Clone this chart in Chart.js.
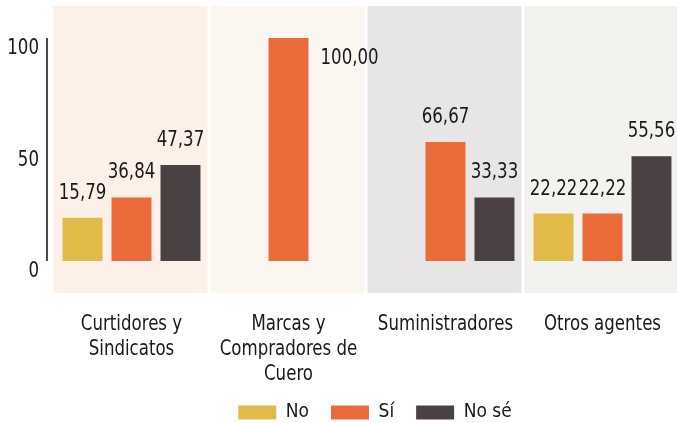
<!DOCTYPE html>
<html>
<head>
<meta charset="utf-8">
<script src="https://cdn.jsdelivr.net/npm/chart.js@4.4.1/dist/chart.umd.min.js"></script>
<style>
  html, body { margin: 0; padding: 0; background: #fff; overflow: hidden; }
  #wrap { width: 681px; height: 423px; }
</style>
</head>
<body>
<div id="wrap"><canvas id="chart"></canvas></div>
<script>
// ========== DATA ========== //
const categories = [
  ["Curtidores y", "Sindicatos"],
  ["Marcas y", "Compradores de", "Cuero"],
  "Suministradores",
  "Otros agentes"
];
const yTicks = [0, 50, 100];

// bar heights as drawn in the picture
const noValues = [19.4, 0, 0, 21.3];
const siValues = [28.5, 100, 53.4, 21.3];
const noseValues = [43.0, 0, 28.5, 47.0];

// value labels printed over the bars
const noLabels = ["15,79", "", "", "22,22"];
const siLabels = ["36,84", "100,00", "66,67", "22,22"];
const noseLabels = ["47,37", "", "33,33", "55,56"];

// ========== STYLE ========== //
const FONT = "'DejaVu Sans Condensed', 'Liberation Sans', sans-serif";
const TEXT = "#1a1a1a";
const NARROW = 0.84; // squeeze text horizontally, the original face is condensed
const panelColors = ["#fdf0e9", "#fbf7f0", "#e7e5e6", "#f3f2ee"];

function narrowText(ctx, txt, x, y, align) {
  ctx.save();
  ctx.translate(x, y);
  ctx.scale(NARROW, 1);
  ctx.textAlign = align;
  ctx.fillText(txt, 0, 0);
  ctx.restore();
}

// panels behind each category, y axis line, tick + category labels
const panelsPlugin = {
  id: "panels",
  afterLayout(chart) {
    // nudge the legend a bit right/down like the original
    const lg = chart.legend;
    if (!lg) return;
    lg.left += 8; lg.right += 8;
    lg.top += 2; lg.bottom += 2;
  },
  beforeDraw(chart) {
    const { ctx, chartArea } = chart;
    const catW = (chartArea.right - chartArea.left) / categories.length;
    ctx.save();
    panelColors.forEach((c, i) => {
      ctx.fillStyle = c;
      ctx.fillRect(chartArea.left + i * catW + 0.5, chartArea.top - 32, catW - 3, chartArea.bottom - chartArea.top + 64);
    });
    ctx.restore();
  },
  afterDraw(chart) {
    const { ctx, chartArea, scales } = chart;
    ctx.save();
    ctx.strokeStyle = "#111";
    ctx.lineWidth = 1.5;
    ctx.beginPath();
    ctx.moveTo(chartArea.left - 6, chartArea.top);
    ctx.lineTo(chartArea.left - 6, chartArea.bottom);
    ctx.stroke();

    ctx.fillStyle = TEXT;
    ctx.textBaseline = "alphabetic";
    ctx.font = `22px ${FONT}`;
    // y tick labels
    scales.y.ticks.forEach(t => {
      narrowText(ctx, String(t.value), chartArea.left - 14, scales.y.getPixelForValue(t.value) + 16, "right");
    });
    // category labels
    categories.forEach((cat, i) => {
      const lines = Array.isArray(cat) ? cat : [cat];
      const x = scales.x.getPixelForTick(i);
      lines.forEach((line, j) => {
        narrowText(ctx, line, x, chartArea.bottom + 69 + j * 25, "center");
      });
    });
    ctx.restore();
  }
};

// value labels
const valueLabels = {
  id: "valueLabels",
  afterDatasetsDraw(chart) {
    const { ctx, chartArea } = chart;
    const all = [noLabels, siLabels, noseLabels];
    ctx.save();
    ctx.font = `22px ${FONT}`;
    ctx.fillStyle = TEXT;
    ctx.textBaseline = "alphabetic";
    chart.data.datasets.forEach((ds, d) => {
      const meta = chart.getDatasetMeta(d);
      meta.data.forEach((bar, i) => {
        const txt = all[d][i];
        if (!txt || !ds.data[i]) return;
        if (bar.y - chartArea.top < 30) {
          narrowText(ctx, txt, bar.x + bar.width / 2 + 12, bar.y + 25.5, "left");
        } else {
          narrowText(ctx, txt, bar.x, bar.y - 19, "center");
        }
      });
    });
    ctx.restore();
  }
};

// ========== CHART ========== //
function createChart() {
  const ctx = document.getElementById("chart").getContext("2d");
  return new Chart(ctx, {
    type: "bar",
    data: {
      labels: categories,
      datasets: [
        { label: "No", data: noValues, backgroundColor: "#e0bb4a" },
        { label: "Sí", data: siValues, backgroundColor: "#eb6a3a" },
        { label: "No sé", data: noseValues, backgroundColor: "#4a4142" }
      ]
    },
    options: {
      responsive: true,
      maintainAspectRatio: false,
      animation: false,
      categoryPercentage: 0.936,
      barPercentage: 0.816,
      layout: { padding: { top: 38, bottom: 0, left: 0, right: 0 } },
      plugins: {
        tooltip: { enabled: false },
        legend: {
          position: "bottom",
          fullSize: false,
          maxHeight: 44,
          labels: {
            boxWidth: 38,
            boxHeight: 14,
            padding: 22,
            color: TEXT,
            font: { family: FONT, size: 19 }
          }
        }
      },
      scales: {
        x: {
          grid: { display: false },
          border: { display: false },
          ticks: { display: false },
          afterFit(scale) { scale.height = 118; }
        },
        y: {
          min: 0,
          max: 100,
          grid: { display: false },
          border: { display: false },
          ticks: { display: false },
          afterFit(scale) { scale.width = 53; },
          afterBuildTicks(scale) { scale.ticks = yTicks.map(v => ({ value: v })); }
        }
      }
    },
    plugins: [panelsPlugin, valueLabels]
  });
}

createChart();
</script>
</body>
</html>
